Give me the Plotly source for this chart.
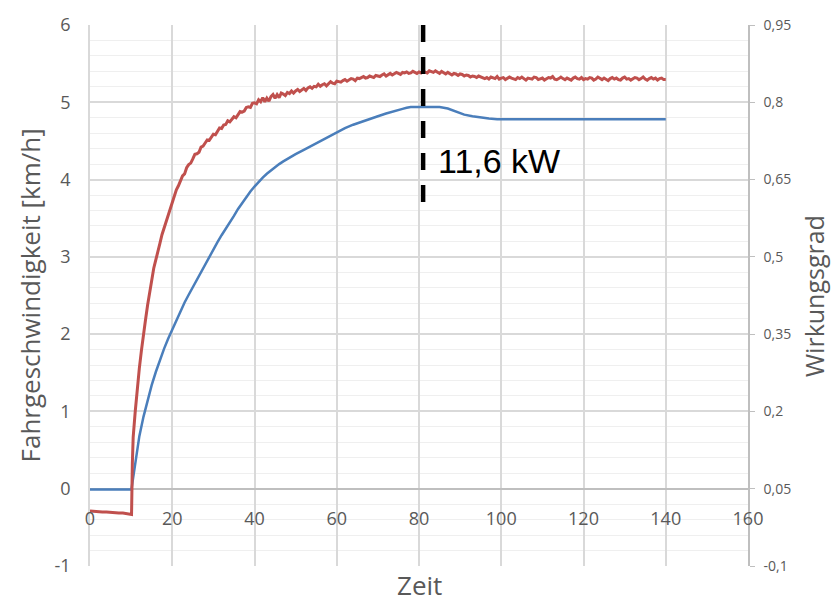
import plotly.graph_objects as go

# Time axis tick labels
x_ticks = [0, 20, 40, 60, 80, 100, 120, 140, 160]

# Left axis ticks (speed)
v_ticks = [-1, 0, 1, 2, 3, 4, 5, 6]
v_tick_text = ["-1", "0", "1", "2", "3", "4", "5", "6"]

# Driving speed [km/h] (left axis)
t_speed = [0, 5, 10.0, 10.1, 10.5, 11, 12, 13, 14, 15, 16, 17, 18, 19, 20, 21, 22, 23,
           24, 25, 26, 27, 28, 29, 30, 31, 32, 33, 34, 35, 36, 37, 38, 39, 40, 41, 42,
           43, 44, 45, 46, 47, 48, 49, 50, 52, 54, 56, 58, 60, 62, 64, 66, 68, 70, 72,
           74, 76, 77, 78, 80, 85, 87, 89, 91, 93, 95, 97, 99, 110, 120, 130, 140]
speed = [-0.01, -0.01, -0.01, 0.00, 0.15, 0.33, 0.68, 0.93, 1.15, 1.34, 1.51, 1.67,
         1.81, 1.94, 2.06, 2.18, 2.30, 2.41, 2.51, 2.61, 2.71, 2.81, 2.91, 3.01, 3.10,
         3.19, 3.28, 3.36, 3.45, 3.53, 3.62, 3.70, 3.775, 3.845, 3.91, 3.97, 4.025,
         4.075, 4.12, 4.16, 4.20, 4.235, 4.27, 4.30, 4.33, 4.385, 4.44, 4.495, 4.555,
         4.615, 4.665, 4.71, 4.75, 4.785, 4.82, 4.855, 4.89, 4.915, 4.93, 4.94, 4.94,
         4.94, 4.92, 4.88, 4.84, 4.82, 4.80, 4.79, 4.78, 4.78, 4.78, 4.78, 4.78]

# Efficiency (right axis): start-up samples, then one sample every 0.5 s from 11 s to 140 s
t_eff = [0, 1, 2, 3, 4, 5, 6, 7, 8, 9, 10, 10.1, 10.3, 10.5] + [11 + 0.5 * i for i in range(259)]
eff = [0.007, 0.006, 0.006, 0.005, 0.005, 0.004, 0.004, 0.003, 0.003, 0.002, 0.001,
       0.000, 0.100, 0.150,
       0.200, 0.247, 0.284, 0.318, 0.352, 0.378, 0.406, 0.433, 0.455, 0.478,   # 11
       0.494, 0.513, 0.526, 0.543, 0.555, 0.571, 0.581, 0.594, 0.606, 0.615,   # 16
       0.630, 0.638, 0.646, 0.657, 0.661, 0.673, 0.679, 0.682, 0.690, 0.699,   # 21
       0.700, 0.703, 0.713, 0.715, 0.721, 0.727, 0.726, 0.732, 0.738, 0.737,   # 26
       0.745, 0.750, 0.749, 0.756, 0.757, 0.764, 0.762, 0.767, 0.772, 0.770,   # 31
       0.777, 0.782, 0.781, 0.783, 0.790, 0.791, 0.790, 0.798, 0.799, 0.797,   # 36
       0.805, 0.801, 0.809, 0.801, 0.808, 0.802, 0.811, 0.815, 0.808, 0.815,   # 41
       0.809, 0.818, 0.816, 0.813, 0.819, 0.817, 0.822, 0.818, 0.822, 0.825,   # 46
       0.821, 0.824, 0.827, 0.823, 0.828, 0.830, 0.827, 0.831, 0.830, 0.835,   # 51
       0.831, 0.834, 0.836, 0.832, 0.837, 0.840, 0.837, 0.836, 0.841, 0.840,   # 56
       0.839, 0.842, 0.844, 0.841, 0.843, 0.846, 0.845, 0.842, 0.847, 0.846,   # 61
       0.848, 0.850, 0.847, 0.848, 0.851, 0.849, 0.848, 0.852, 0.851, 0.850,   # 66
       0.853, 0.855, 0.851, 0.854, 0.856, 0.853, 0.855, 0.858, 0.856, 0.854,   # 71
       0.858, 0.857, 0.859, 0.856, 0.857, 0.860, 0.858, 0.856, 0.859, 0.857,   # 76
       0.860, 0.859, 0.857, 0.861, 0.859, 0.858, 0.861, 0.858, 0.856, 0.860,   # 81
       0.857, 0.855, 0.858, 0.856, 0.853, 0.856, 0.855, 0.852, 0.855, 0.854,   # 86
       0.851, 0.853, 0.852, 0.849, 0.851, 0.850, 0.848, 0.851, 0.849, 0.848,   # 91
       0.846, 0.848, 0.845, 0.849, 0.847, 0.846, 0.850, 0.845, 0.847, 0.848,   # 96
       0.844, 0.846, 0.849, 0.847, 0.845, 0.844, 0.848, 0.846, 0.849, 0.846,   # 101
       0.843, 0.847, 0.846, 0.845, 0.849, 0.848, 0.844, 0.846, 0.847, 0.843,   # 106
       0.846, 0.848, 0.847, 0.850, 0.845, 0.844, 0.846, 0.849, 0.846, 0.844,   # 111
       0.847, 0.845, 0.843, 0.847, 0.849, 0.846, 0.845, 0.848, 0.844, 0.846,   # 116
       0.845, 0.848, 0.847, 0.843, 0.845, 0.849, 0.846, 0.844, 0.847, 0.845,   # 121
       0.842, 0.846, 0.848, 0.845, 0.847, 0.844, 0.843, 0.847, 0.849, 0.845,   # 126
       0.846, 0.843, 0.845, 0.848, 0.847, 0.844, 0.846, 0.849, 0.845, 0.843,   # 131
       0.846, 0.848, 0.845, 0.847, 0.843, 0.846, 0.847, 0.844, 0.844]          # 136

# Right axis ticks
eff_ticks = [-0.1, 0.05, 0.2, 0.35, 0.5, 0.65, 0.8, 0.95]
eff_tick_text = ["-0,1", "0,05", "0,2", "0,35", "0,5", "0,65", "0,8", "0,95"]

# Operating point marker
marker_t = 81
marker_range = [6, 3.71]
marker_label = "11,6 kW"

GRID = "#d9d9d9"
MINOR = "#efefef"
TXT = "#595959"

fig = go.Figure()
fig.add_trace(go.Scatter(x=t_speed, y=speed, mode="lines", yaxis="y",
                         line=dict(color="#4a7ebb", width=2.5), showlegend=False))
fig.add_trace(go.Scatter(x=t_eff, y=eff, mode="lines", yaxis="y2",
                         line=dict(color="#c0504d", width=3), showlegend=False))

fig.add_shape(type="line", xref="x", yref="y", x0=marker_t, x1=marker_t,
              y0=marker_range[0], y1=marker_range[1],
              line=dict(color="black", width=4.5, dash="17px,15px"))

fig.add_annotation(x=84.2, y=4.24, xref="x", yref="y", text=marker_label,
                   showarrow=False, xanchor="left", yanchor="middle",
                   font=dict(family="Liberation Sans, Arial", size=34, color="black"))

# Axis titles
fig.add_annotation(x=0.5, y=-0.035, xref="paper", yref="paper", text="Zeit",
                   showarrow=False, xanchor="center", yanchor="middle",
                   font=dict(size=26, color=TXT))
fig.add_annotation(x=-0.0912, y=0.5, xref="paper", yref="paper",
                   text="Fahrgeschwindigkeit [km/h]", textangle=-90,
                   showarrow=False, xanchor="center", yanchor="middle",
                   font=dict(size=26, color=TXT))
fig.add_annotation(x=1.0995, y=0.5, xref="paper", yref="paper",
                   text="Wirkungsgrad", textangle=-90,
                   showarrow=False, xanchor="center", yanchor="middle",
                   font=dict(size=25, color=TXT))

fig.update_layout(
    width=832, height=603,
    margin=dict(l=90, r=84, t=18, b=37),
    paper_bgcolor="white", plot_bgcolor="white",
    font=dict(family="Open Sans", color=TXT),
    xaxis=dict(range=[0, 160], tickvals=x_ticks, showgrid=True, gridcolor=GRID,
               gridwidth=1.5, zeroline=False, showline=False,
               anchor="free", position=1 / 7,
               ticks="outside", ticklen=14, tickcolor="rgba(0,0,0,0)",
               tickfont=dict(size=18, color=TXT)),
    yaxis=dict(range=[-1, 6], tickvals=v_ticks, ticktext=v_tick_text,
               showgrid=True, gridcolor=GRID, gridwidth=1.5,
               minor=dict(dtick=0.2, showgrid=True, gridcolor=MINOR, gridwidth=1),
               zeroline=True, zerolinecolor="#bfbfbf", zerolinewidth=2,
               showline=True, linecolor=GRID, linewidth=1.5,
               ticks="outside", ticklen=14, tickcolor="rgba(0,0,0,0)",
               tickfont=dict(size=18, color=TXT)),
    yaxis2=dict(range=[-0.1, 0.95], overlaying="y", side="right",
                tickvals=eff_ticks, ticktext=eff_tick_text,
                showgrid=False, zeroline=False,
                showline=True, linecolor="#bfbfbf", linewidth=1.5,
                ticks="outside", ticklen=5, tickcolor="#bfbfbf", ticklabelstandoff=6,
                tickfont=dict(size=14, color=TXT)),
)

fig.write_html("out.html")
